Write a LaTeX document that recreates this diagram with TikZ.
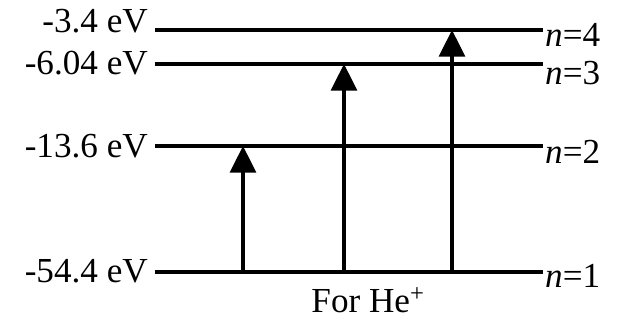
\documentclass[tikz,border=0pt]{standalone}
\usepackage{fontspec}
\setmainfont{Liberation Serif}
\usetikzlibrary{arrows.meta}
\begin{document}
\begin{tikzpicture}[x=0.03cm,y=-0.03cm,every node/.style={font=\fontsize{30}{34}\selectfont,inner sep=0pt},
  level/.style={line width=2.8pt},
  uparrow/.style={line width=2.8pt,-{Triangle[length=0.8cm,width=0.78cm]}}]
\useasboundingbox (0,0) rectangle (621,328);
\coordinate (n1l) at (155,272); \coordinate (n1r) at (543,272);
\coordinate (n2l) at (155,146); \coordinate (n2r) at (543,146);
\coordinate (n3l) at (155,64);  \coordinate (n3r) at (543,64);
\coordinate (n4l) at (155,30);  \coordinate (n4r) at (543,30);
\draw[level] (n1l) -- (n1r);
\draw[level] (n2l) -- (n2r);
\draw[level] (n3l) -- (n3r);
\draw[level] (n4l) -- (n4r);
\node[anchor=east] (e4) at (148,21) {-3.4 eV};
\node[anchor=east] (e3) at (148,63) {-6.04 eV};
\node[anchor=east] (e2) at (148,146) {-13.6 eV};
\node[anchor=east] (e1) at (148,271) {-54.4 eV};
\node[anchor=west] (q4) at (545,35) {\textit{n}=4};
\node[anchor=west] (q3) at (545,73) {\textit{n}=3};
\node[anchor=west] (q2) at (545,152) {\textit{n}=2};
\node[anchor=west] (q1) at (545,276) {\textit{n}=1};
\coordinate (s2) at (243,272);
\coordinate (s3) at (344,272);
\coordinate (s4) at (452,272);
\draw[uparrow] (s2) -- (s2 |- n2l);
\draw[uparrow] (s3) -- (s3 |- n3l);
\draw[uparrow] (s4) -- (s4 |- n4l);
\node (he) at (368,300) {For He\textsuperscript{+}};
\end{tikzpicture}
\end{document}
